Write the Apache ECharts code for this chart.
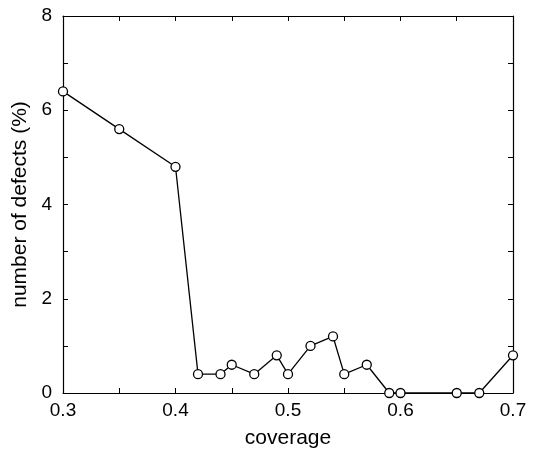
<!DOCTYPE html>
<html>
<head>
<meta charset="utf-8">
<script src="https://cdn.jsdelivr.net/npm/echarts@6/dist/echarts.min.js"></script>
<style>
  html, body { margin: 0; padding: 0; background: #fff; }
  #chart { width: 535px; height: 453px; }
</style>
</head>
<body>
<div id="chart"></div>
<script>
// Defect fraction as a function of surface coverage
const coverage = [0.30, 0.35, 0.40, 0.42, 0.44, 0.45, 0.47, 0.49, 0.50, 0.52, 0.54, 0.55, 0.57, 0.59, 0.60, 0.65, 0.67, 0.70];
const defects  = [6.4, 5.6, 4.8, 0.4, 0.4, 0.6, 0.4, 0.8, 0.4, 1.0, 1.2, 0.4, 0.6, 0.0, 0.0, 0.0, 0.0, 0.8];
const xTickLabels = ['0.3', '0.4', '0.5', '0.6', '0.7'];
const yTickLabels = ['0', '2', '4', '6', '8'];

const points = coverage.map((c, i) => [c, defects[i]]);
const font = '"Liberation Sans", Arial, Helvetica, sans-serif';
const ink = '#000';

const baseLine = { show: true, onZero: false, lineStyle: { color: ink, width: 1.2 } };
const tick = { show: true, inside: true, length: 5, lineStyle: { color: ink, width: 1 } };
const minor = { show: true, splitNumber: 2, length: 5, lineStyle: { color: ink, width: 1 } };

const chart = echarts.init(document.getElementById('chart'), null, { renderer: 'canvas' });
chart.setOption({
  animation: false,
  backgroundColor: '#fff',
  grid: { left: 63, right: 22, top: 16, bottom: 60, containLabel: false, outerBoundsMode: 'none' },
  xAxis: [
    {
      type: 'value', min: 0.3, max: 0.7, interval: 0.1, position: 'bottom',
      name: 'coverage', nameLocation: 'middle', nameGap: 35,
      nameTextStyle: { fontFamily: font, fontSize: 21, color: ink },
      axisLine: baseLine, axisTick: tick, minorTick: minor,
      axisLabel: {
        fontFamily: font, fontSize: 19, color: ink, margin: 8,
        formatter: v => { const s = v.toFixed(1); return xTickLabels.includes(s) ? s : ''; }
      },
      splitLine: { show: false }, minorSplitLine: { show: false }
    },
    {
      type: 'value', min: 0.3, max: 0.7, interval: 0.1, position: 'top',
      axisLine: baseLine, axisTick: tick, minorTick: minor,
      axisLabel: { show: false }, splitLine: { show: false }
    }
  ],
  yAxis: [
    {
      type: 'value', min: 0, max: 8, interval: 2, position: 'left',
      name: 'number of defects (%)', nameLocation: 'middle', nameGap: 30,
      nameTextStyle: { fontFamily: font, fontSize: 21, color: ink },
      axisLine: baseLine, axisTick: tick, minorTick: minor,
      axisLabel: {
        fontFamily: font, fontSize: 19, color: ink, margin: 11,
        formatter: v => { const s = String(Math.round(v)); return yTickLabels.includes(s) ? s : ''; }
      },
      splitLine: { show: false }, minorSplitLine: { show: false }
    },
    {
      type: 'value', min: 0, max: 8, interval: 2, position: 'right',
      axisLine: baseLine, axisTick: tick, minorTick: minor,
      axisLabel: { show: false }, splitLine: { show: false }
    }
  ],
  series: [
    {
      type: 'line',
      data: points,
      xAxisIndex: 0, yAxisIndex: 0,
      clip: false,
      symbol: 'circle', symbolSize: 9,
      lineStyle: { color: ink, width: 1.3 },
      itemStyle: { color: '#fff', borderColor: ink, borderWidth: 1.3 },
      z: 5
    }
  ]
});
</script>
</body>
</html>
